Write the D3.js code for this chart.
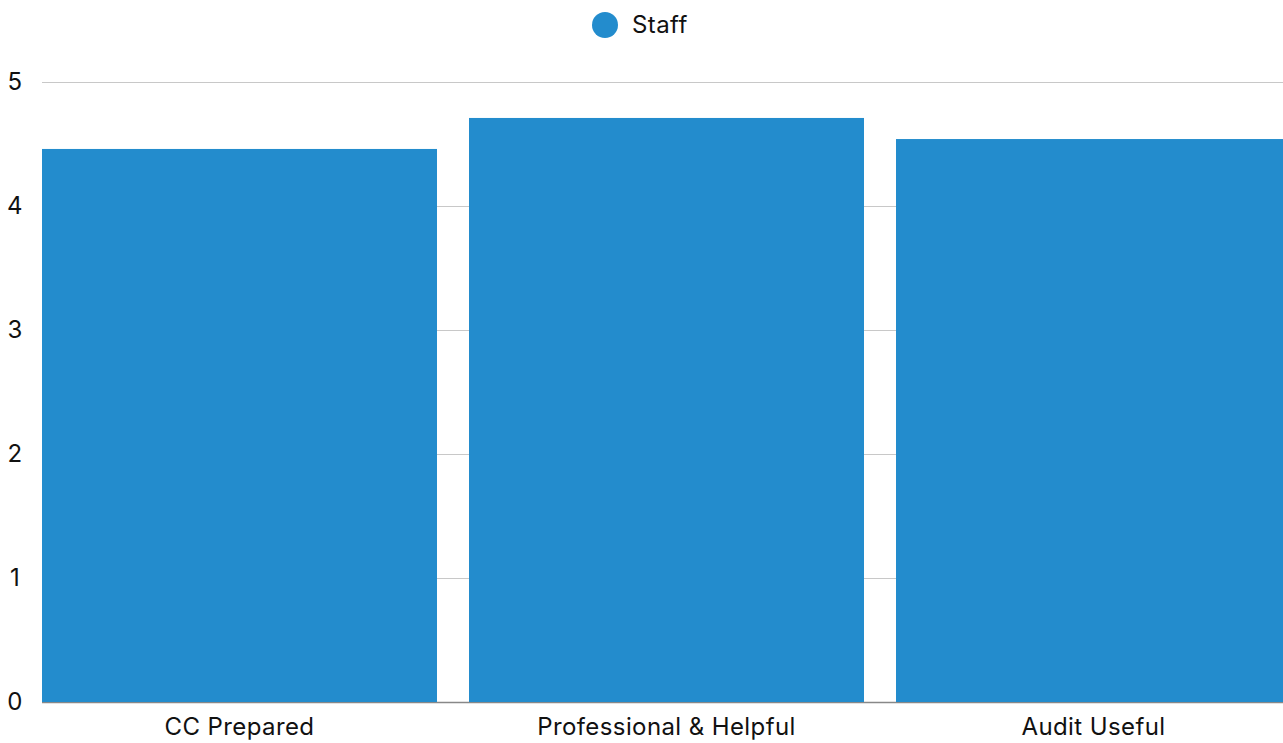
<!DOCTYPE html>
<html>
<head>
<meta charset="utf-8">
<script src="https://cdn.jsdelivr.net/npm/d3@7"></script>
<style>
  html, body { margin: 0; padding: 0; background: #fff; overflow: hidden; }
  svg { display: block; font-family: Inter, "Noto Sans", sans-serif; }
  text { letter-spacing: 0.4px; }
</style>
</head>
<body>
<svg id="chart" width="1283" height="743"></svg>
<script>
// Survey averages per question
const categories = ["CC Prepared", "Professional & Helpful", "Audit Useful"];
const staffValues = [4.46, 4.71, 4.54];
const yTicks = [0, 1, 2, 3, 4, 5];
const seriesName = "Staff";
const barColor = "#238ccd";

const svg = d3.select("#chart");

const x = d3.scaleBand()
  .domain(categories)
  .range([42, 1291])
  .paddingInner(32 / 427)
  .paddingOuter(0);

const y = d3.scaleLinear().domain([0, 5]).range([702, 82]);

// Horizontal gridlines
svg.append("g")
  .selectAll("line")
  .data(yTicks.filter(d => d > 0))
  .join("line")
  .attr("x1", 42).attr("x2", 1283)
  .attr("y1", d => y(d) + 0.5).attr("y2", d => y(d) + 0.5)
  .attr("stroke", "#c8c8c8").attr("stroke-width", 1);

// Baseline
svg.append("line")
  .attr("x1", 42).attr("x2", 1283)
  .attr("y1", y(0) + 0.5).attr("y2", y(0) + 0.5)
  .attr("stroke", "#888").attr("stroke-width", 1.5);

// Bars
svg.append("g")
  .selectAll("rect")
  .data(categories.map((c, i) => ({ c, v: staffValues[i] })))
  .join("rect")
  .attr("x", d => x(d.c))
  .attr("width", x.bandwidth())
  .attr("y", d => y(d.v))
  .attr("height", d => y(0) - y(d.v))
  .attr("fill", barColor);

// Y-axis tick labels
svg.append("g")
  .selectAll("text")
  .data(yTicks)
  .join("text")
  .attr("x", 15)
  .attr("y", d => y(d))
  .attr("dy", "0.35em")
  .attr("text-anchor", "middle")
  .attr("font-size", 24)
  .attr("fill", "#111")
  .text(d => d);

// X-axis category labels
svg.append("g")
  .selectAll("text")
  .data(categories)
  .join("text")
  .attr("x", d => x(d) + x.bandwidth() / 2)
  .attr("y", 727)
  .attr("dy", "0.35em")
  .attr("text-anchor", "middle")
  .attr("font-size", 24)
  .attr("fill", "#111")
  .text(d => d);

// Legend
const legend = svg.append("g");
legend.append("circle")
  .attr("cx", 605).attr("cy", 25).attr("r", 13)
  .attr("fill", barColor);
legend.append("text")
  .attr("x", 632).attr("y", 25)
  .attr("dy", "0.35em")
  .attr("font-size", 24)
  .attr("fill", "#111")
  .text(seriesName);
</script>
</body>
</html>
